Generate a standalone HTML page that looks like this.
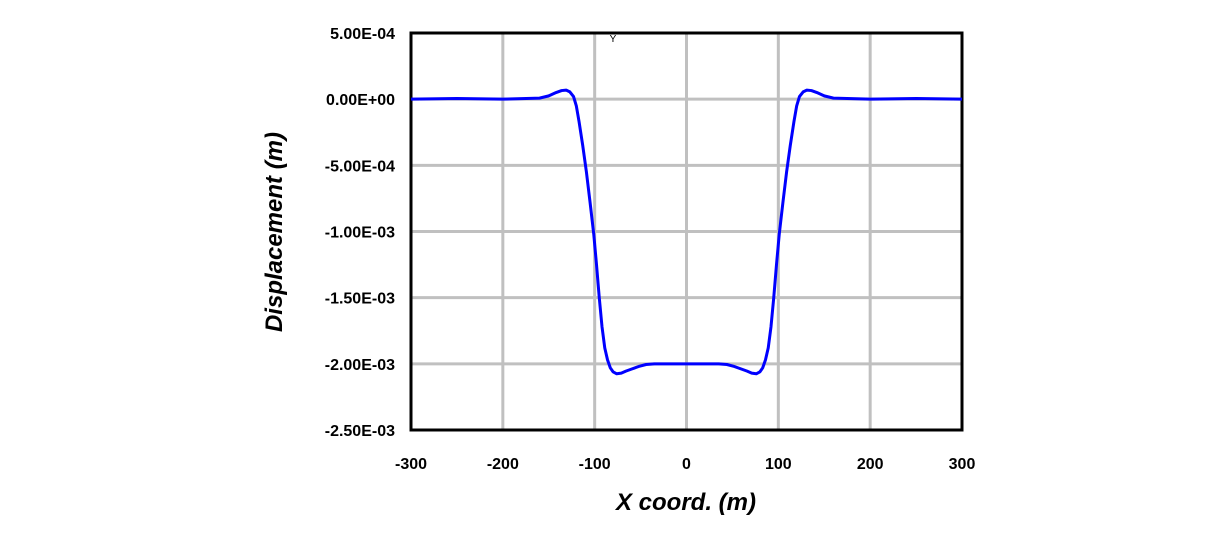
<!DOCTYPE html>
<html><head><meta charset="utf-8"><style>
body{margin:0;background:#fff;width:1210px;height:529px;overflow:hidden;font-family:"Liberation Sans",Arial,sans-serif}
</style></head><body>
<svg width="1210" height="529" id="chart"></svg>
<script>
const xTicks=[-300,-200,-100,0,100,200,300];
const yTicks=[0.0005,0,-0.0005,-0.001,-0.0015,-0.002,-0.0025];
const yTickLabels=["5.00E-04","0.00E+00","-5.00E-04","-1.00E-03","-1.50E-03","-2.00E-03","-2.50E-03"];
const xs=[-300,-250,-200,-160,-150,-142,-136,-131,-127,-123,-120,-117,-113,-109,-105,-101,-98,-95,-92,-89,-86,-83,-80,-76,-71,-66,-60,-52,-44,-35,0,35,44,52,60,66,71,76,80,83,86,89,92,95,98,101,105,109,113,117,120,123,127,131,136,142,150,160,200,250,300];
const ys=[0,0.005,0,0.008,0.025,0.05,0.065,0.068,0.055,0.02,-0.05,-0.17,-0.35,-0.55,-0.78,-1.02,-1.25,-1.5,-1.72,-1.88,-1.97,-2.03,-2.06,-2.075,-2.07,-2.055,-2.04,-2.02,-2.005,-2.0,-2.0,-2.0,-2.005,-2.02,-2.04,-2.055,-2.07,-2.075,-2.06,-2.03,-1.97,-1.88,-1.72,-1.5,-1.25,-1.02,-0.78,-0.55,-0.35,-0.17,-0.05,0.02,0.055,0.068,0.065,0.05,0.025,0.008,0,0.005,0].map(v=>v*1e-3);
const L=411,R=962,T=33,B=430;
const sx=v=>L+(v+300)/600*(R-L);
const sy=v=>T+(0.0005-v)/0.003*(B-T);
const svg=document.getElementById('chart');const NS="http://www.w3.org/2000/svg";
function mk(t,a,p){const e=document.createElementNS(NS,t);for(const k in a)e.setAttribute(k,a[k]);(p||svg).appendChild(e);return e;}
xTicks.forEach((v,i)=>{const g=mk('line',{x1:sx(v),x2:sx(v),y1:T,y2:B,stroke:'#c0c0c0','stroke-width':3});

const t=mk('text',{x:sx(v),y:469,'text-anchor':'middle','font-size':16,'font-weight':'bold'});t.textContent=v;
});
yTicks.forEach((v,i)=>{const g=mk('line',{x1:L,x2:R,y1:sy(v),y2:sy(v),stroke:'#c0c0c0','stroke-width':3});

const t=mk('text',{x:395,y:sy(v)+6,'text-anchor':'end','font-size':16,'font-weight':'bold'});t.textContent=yTickLabels[i];
});
const f=mk('rect',{x:L,y:T,width:R-L,height:B-T,fill:'none',stroke:'#000','stroke-width':3});

const p=mk('polyline',{points:xs.map((x,i)=>sx(x)+','+sy(ys[i])).join(' '),fill:'none',stroke:'#0000ff','stroke-width':3,'stroke-linejoin':'round'});

const xt=mk('text',{x:686,y:510,'text-anchor':'middle','font-size':24,'font-weight':'bold','font-style':'italic'});xt.textContent='X coord. (m)';

const yt=mk('text',{x:0,y:0,'text-anchor':'middle','font-size':24,'font-weight':'bold','font-style':'italic',transform:'translate(282,232) rotate(-90)'});yt.textContent='Displacement (m)';

const ym=mk('text',{x:613,y:42,'text-anchor':'middle','font-size':10});ym.textContent='Y';

</script>
</body></html>
